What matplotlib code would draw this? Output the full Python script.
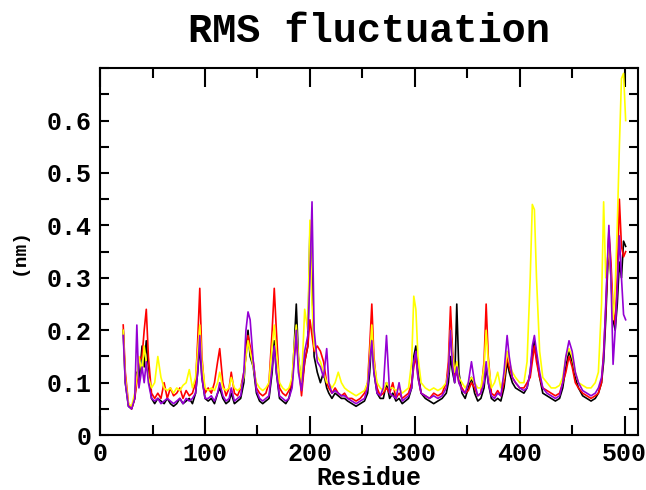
import matplotlib.pyplot as plt
from matplotlib.ticker import MultipleLocator

# residue grid (shared by all four runs)
residue = [22, 24, 27, 30, 33, 35, 37, 40, 42, 44,
           46, 49, 52, 55, 58, 61, 64, 67, 70, 73,
           76, 79, 82, 85, 88, 91, 93, 95, 97, 100,
           103, 106, 109, 112, 114, 117, 120, 123, 125, 128,
           131, 134, 137, 139, 141, 143, 146, 149, 152, 155,
           158, 161, 164, 166, 168, 171, 174, 177, 180, 183,
           185, 187, 189, 192, 195, 198, 200, 202, 204, 207,
           210, 213, 216, 218, 221, 224, 227, 230, 233, 236,
           240, 244, 248, 252, 255, 257, 259, 261, 264, 267,
           270, 273, 276, 279, 282, 285, 288, 291, 294, 297,
           299, 301, 303, 306, 310, 314, 318, 322, 326, 330,
           332, 334, 336, 338, 340, 342, 345, 348, 351, 354,
           357, 360, 363, 366, 368, 370, 373, 376, 379, 382,
           385, 388, 390, 393, 396, 400, 404, 407, 410, 412,
           414, 416, 419, 422, 426, 430, 434, 438, 441, 444,
           447, 450, 453, 456, 460, 464, 468, 472, 475, 478,
           480, 482, 485, 487, 489, 491, 493, 495, 497, 499,
           501]

rmsf_black = [0.20, 0.10, 0.055, 0.05, 0.07, 0.12, 0.10, 0.17, 0.13, 0.18,
              0.12, 0.07, 0.06, 0.07, 0.065, 0.06, 0.07, 0.06, 0.055, 0.06,
              0.07, 0.06, 0.065, 0.07, 0.06, 0.08, 0.12, 0.17, 0.11, 0.07,
              0.065, 0.07, 0.06, 0.08, 0.09, 0.07, 0.06, 0.065, 0.08, 0.06,
              0.065, 0.07, 0.10, 0.16, 0.20, 0.15, 0.13, 0.08, 0.065, 0.06,
              0.065, 0.07, 0.12, 0.18, 0.12, 0.07, 0.065, 0.06, 0.07, 0.10,
              0.17, 0.25, 0.15, 0.09, 0.14, 0.17, 0.39, 0.30, 0.15, 0.12,
              0.10, 0.12, 0.09, 0.08, 0.07, 0.08, 0.075, 0.07, 0.07, 0.065,
              0.06, 0.055, 0.06, 0.065, 0.08, 0.12, 0.19, 0.12, 0.08, 0.07,
              0.07, 0.10, 0.07, 0.08, 0.065, 0.07, 0.06, 0.065, 0.07, 0.09,
              0.15, 0.17, 0.12, 0.08, 0.07, 0.065, 0.06, 0.065, 0.07, 0.08,
              0.10, 0.15, 0.12, 0.10, 0.25, 0.12, 0.08, 0.07, 0.09, 0.11,
              0.08, 0.065, 0.07, 0.09, 0.13, 0.10, 0.07, 0.065, 0.07, 0.065,
              0.09, 0.14, 0.12, 0.10, 0.09, 0.085, 0.08, 0.09, 0.12, 0.16,
              0.18, 0.15, 0.11, 0.08, 0.075, 0.07, 0.065, 0.07, 0.09, 0.13,
              0.16, 0.14, 0.11, 0.09, 0.075, 0.07, 0.065, 0.07, 0.08, 0.10,
              0.14, 0.22, 0.38, 0.30, 0.22, 0.20, 0.25, 0.33, 0.30, 0.37,
              0.36]

rmsf_red = [0.21, 0.12, 0.06, 0.05, 0.07, 0.10, 0.14, 0.15, 0.20, 0.24,
            0.15, 0.08, 0.07, 0.08, 0.07, 0.10, 0.07, 0.09, 0.075, 0.08,
            0.09, 0.07, 0.085, 0.075, 0.08, 0.10, 0.18, 0.28, 0.15, 0.08,
            0.09, 0.08, 0.10, 0.14, 0.165, 0.10, 0.075, 0.09, 0.12, 0.08,
            0.075, 0.09, 0.12, 0.15, 0.19, 0.17, 0.14, 0.09, 0.08, 0.075,
            0.08, 0.10, 0.20, 0.28, 0.20, 0.09, 0.08, 0.075, 0.085, 0.10,
            0.15, 0.18, 0.14, 0.075, 0.14, 0.17, 0.22, 0.19, 0.16, 0.17,
            0.16, 0.14, 0.10, 0.09, 0.08, 0.09, 0.08, 0.075, 0.08, 0.07,
            0.07, 0.065, 0.07, 0.08, 0.10, 0.17, 0.25, 0.15, 0.09, 0.075,
            0.08, 0.09, 0.08, 0.10, 0.07, 0.08, 0.07, 0.075, 0.08, 0.10,
            0.13, 0.15, 0.11, 0.08, 0.075, 0.07, 0.08, 0.075, 0.08, 0.10,
            0.14, 0.245, 0.16, 0.11, 0.12, 0.10, 0.09, 0.08, 0.085, 0.10,
            0.09, 0.075, 0.08, 0.14, 0.25, 0.15, 0.08, 0.075, 0.085, 0.075,
            0.10, 0.15, 0.13, 0.11, 0.10, 0.09, 0.09, 0.10, 0.11, 0.14,
            0.17, 0.14, 0.11, 0.09, 0.085, 0.08, 0.075, 0.08, 0.10, 0.12,
            0.15, 0.13, 0.10, 0.09, 0.08, 0.075, 0.07, 0.075, 0.08, 0.10,
            0.16, 0.24, 0.39, 0.33, 0.24, 0.21, 0.30, 0.45, 0.36, 0.34,
            0.35]

rmsf_yellow = [0.20, 0.11, 0.06, 0.055, 0.08, 0.11, 0.15, 0.12, 0.17, 0.14,
               0.11, 0.09, 0.10, 0.15, 0.11, 0.09, 0.085, 0.09, 0.08, 0.09,
               0.085, 0.095, 0.10, 0.125, 0.09, 0.11, 0.16, 0.21, 0.14, 0.09,
               0.085, 0.09, 0.085, 0.10, 0.12, 0.09, 0.085, 0.09, 0.11, 0.09,
               0.085, 0.09, 0.11, 0.15, 0.18, 0.16, 0.13, 0.10, 0.09, 0.085,
               0.09, 0.10, 0.17, 0.21, 0.16, 0.10, 0.09, 0.085, 0.09, 0.11,
               0.17, 0.21, 0.15, 0.10, 0.24, 0.20, 0.41, 0.25, 0.17, 0.15,
               0.14, 0.12, 0.10, 0.10, 0.09, 0.10, 0.12, 0.10, 0.09, 0.085,
               0.08, 0.075, 0.08, 0.085, 0.10, 0.15, 0.21, 0.14, 0.10, 0.09,
               0.085, 0.10, 0.09, 0.09, 0.085, 0.09, 0.08, 0.085, 0.09, 0.14,
               0.265, 0.24, 0.15, 0.10, 0.09, 0.085, 0.09, 0.085, 0.09, 0.10,
               0.12, 0.20, 0.15, 0.12, 0.14, 0.11, 0.10, 0.09, 0.10, 0.11,
               0.10, 0.09, 0.09, 0.13, 0.20, 0.14, 0.09, 0.10, 0.12, 0.09,
               0.11, 0.16, 0.14, 0.12, 0.11, 0.10, 0.10, 0.14, 0.30, 0.44,
               0.43, 0.30, 0.16, 0.11, 0.10, 0.09, 0.09, 0.095, 0.11, 0.15,
               0.165, 0.15, 0.12, 0.10, 0.095, 0.09, 0.09, 0.10, 0.12, 0.25,
               0.445, 0.30, 0.36, 0.30, 0.22, 0.28, 0.40, 0.55, 0.68, 0.69,
               0.60]

rmsf_purple = [0.19, 0.10, 0.055, 0.05, 0.07, 0.21, 0.09, 0.13, 0.10, 0.14,
               0.10, 0.07, 0.065, 0.07, 0.06, 0.065, 0.07, 0.065, 0.06, 0.065,
               0.07, 0.06, 0.07, 0.065, 0.07, 0.08, 0.12, 0.19, 0.11, 0.07,
               0.07, 0.075, 0.065, 0.08, 0.10, 0.075, 0.065, 0.07, 0.09, 0.065,
               0.07, 0.075, 0.12, 0.20, 0.235, 0.22, 0.14, 0.085, 0.07, 0.065,
               0.07, 0.075, 0.13, 0.17, 0.12, 0.075, 0.07, 0.065, 0.07, 0.09,
               0.14, 0.20, 0.12, 0.085, 0.16, 0.19, 0.30, 0.445, 0.20, 0.14,
               0.13, 0.11, 0.165, 0.10, 0.08, 0.085, 0.08, 0.075, 0.075, 0.07,
               0.065, 0.06, 0.065, 0.07, 0.09, 0.14, 0.18, 0.12, 0.08, 0.075,
               0.09, 0.19, 0.08, 0.075, 0.07, 0.10, 0.065, 0.07, 0.075, 0.09,
               0.14, 0.16, 0.11, 0.08, 0.075, 0.07, 0.075, 0.07, 0.075, 0.09,
               0.12, 0.20, 0.13, 0.10, 0.13, 0.10, 0.085, 0.08, 0.10, 0.14,
               0.10, 0.075, 0.08, 0.10, 0.14, 0.10, 0.075, 0.07, 0.08, 0.075,
               0.12, 0.19, 0.15, 0.11, 0.10, 0.09, 0.085, 0.09, 0.12, 0.17,
               0.19, 0.16, 0.12, 0.09, 0.08, 0.075, 0.07, 0.075, 0.10, 0.15,
               0.18, 0.16, 0.12, 0.10, 0.085, 0.08, 0.075, 0.08, 0.09, 0.11,
               0.15, 0.25, 0.40, 0.30, 0.135, 0.20, 0.28, 0.38, 0.30, 0.23,
               0.22]

series = [
    (rmsf_black, 'black'),
    (rmsf_red, '#ff0000'),
    (rmsf_yellow, '#ffff00'),
    (rmsf_purple, '#9400d3'),
]

mono = 'Liberation Mono'

fig = plt.figure(figsize=(6.46, 4.90), dpi=100)
ax = fig.add_axes([0.155, 0.112, 0.833, 0.749])

for values, color in series:
    ax.plot(residue, values, color=color, lw=1.2)

ax.set_xlim(0, 513)
ax.set_ylim(0, 0.7)

ax.xaxis.set_major_locator(MultipleLocator(100))
ax.xaxis.set_minor_locator(MultipleLocator(50))
ax.yaxis.set_major_locator(MultipleLocator(0.1))
ax.yaxis.set_minor_locator(MultipleLocator(0.05))

ax.tick_params(axis='x', which='major', direction='in', top=True, length=14, width=1.5, pad=5)
ax.tick_params(axis='x', which='minor', direction='in', top=True, length=7, width=1.5)
ax.tick_params(axis='y', which='both', direction='in', right=True, length=6.5, width=1.5, pad=6)

ax.set_yticks([0, 0.1, 0.2, 0.3, 0.4, 0.5, 0.6])
ax.set_yticklabels(['0', '0.1', '0.2', '0.3', '0.4', '0.5', '0.6'])
for lab in ax.get_xticklabels() + ax.get_yticklabels():
    lab.set_fontfamily(mono)
    lab.set_fontweight('bold')
    lab.set_fontsize(18)

for sp in ax.spines.values():
    sp.set_linewidth(1.5)

ax.set_xlabel('Residue', fontfamily=mono, fontweight='bold', fontsize=18, labelpad=0)
ax.set_ylabel('(nm)', fontfamily=mono, fontweight='bold', fontsize=14, labelpad=14)
fig.suptitle('RMS fluctuation', fontfamily=mono, fontweight='bold', fontsize=29,
             x=0.571, y=0.975)

fig.savefig('out.png', dpi=100)
